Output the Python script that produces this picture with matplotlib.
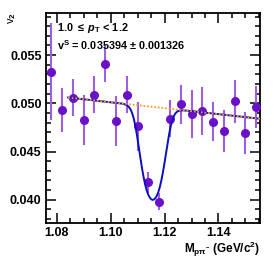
import matplotlib.pyplot as plt
from matplotlib.ticker import MultipleLocator
import numpy as np

plt.rcParams['font.family'] = ['Liberation Sans', 'DejaVu Sans']
plt.rcParams['mathtext.fontset'] = 'custom'
plt.rcParams['mathtext.rm'] = 'Liberation Sans:bold'
plt.rcParams['mathtext.it'] = 'Liberation Sans:bold:italic'
plt.rcParams['mathtext.bf'] = 'Liberation Sans:bold'

# datos
mass = [1.078, 1.082, 1.086, 1.090, 1.094, 1.098, 1.102, 1.106, 1.110, 1.114,
        1.118, 1.122, 1.126, 1.130, 1.134, 1.138, 1.142, 1.146, 1.150, 1.154]
v2 = [0.0533, 0.0493, 0.0506, 0.0483, 0.0509, 0.0541, 0.0482, 0.0509, 0.0476, 0.0418,
      0.0398, 0.0484, 0.0499, 0.0489, 0.0492, 0.0481, 0.0471, 0.0502, 0.0469, 0.0496]
v2_err = [0.0050, 0.0023, 0.0019, 0.0026, 0.0019, 0.0019, 0.0026, 0.0019, 0.0025, 0.0011,
          0.0009, 0.0019, 0.0020, 0.0025, 0.0025, 0.0020, 0.0022, 0.0022, 0.0022, 0.0022]

# parametros del ajuste
v2_sig = 0.035394
v2_sig_err = 0.001326
bg_a, bg_x0, bg_b = 0.0506, 1.0842, -0.0309
peak_mu, peak_sigma, peak_amp = 1.1156, 0.0029, 2.1
fit_lo, fit_hi = 1.0842, 1.1554

xf = np.linspace(fit_lo, fit_hi, 400)
bg = bg_a + bg_b * (xf - bg_x0)
sb = peak_amp * np.exp(-0.5 * ((xf - peak_mu) / peak_sigma) ** 2)
frac = sb / (1 + sb)
total = v2_sig * frac + bg * (1 - frac)

fig = plt.figure(figsize=(2.74, 2.63), dpi=100)
ax = fig.add_axes([0.1668, 0.152, 0.7821, 0.7997])

ax.errorbar(mass, v2, yerr=v2_err, fmt='none', ecolor='#9b5fe0', elinewidth=1.5, zorder=2)
ax.plot(mass, v2, 'o', color='#6a10c8', markersize=5.5, zorder=3)
ax.plot(xf, total, '-', color='#0a10c0', lw=1.4, zorder=4)
ax.plot(xf, bg, color='#ff9a2a', lw=1.3, ls=(0, (1, 1)), zorder=5)

ax.set_xlim(1.0759, 1.1554)
ax.set_ylim(0.03758, 0.0594)

ax.xaxis.set_major_locator(MultipleLocator(0.02))
ax.xaxis.set_minor_locator(MultipleLocator(0.005))
ax.yaxis.set_major_locator(MultipleLocator(0.005))
ax.yaxis.set_minor_locator(MultipleLocator(0.001))
ax.xaxis.set_major_formatter(plt.FuncFormatter(lambda v, p: f'{v:.2f}'))
ax.yaxis.set_major_formatter(plt.FuncFormatter(lambda v, p: f'{v:.3f}'))
ax.tick_params(which='both', direction='in', top=True, right=True, width=1.1)
ax.tick_params(which='major', length=7, labelsize=9, pad=3)
ax.tick_params(which='minor', length=3.5)
for lab in ax.get_xticklabels() + ax.get_yticklabels():
    lab.set_fontweight('bold')
for s in ax.spines.values():
    s.set_linewidth(1.3)

ax.text(0.053, 0.927, r'1.0 $\leq$ $p_{\mathrm{T}}$ < 1.2', transform=ax.transAxes,
        fontsize=7.8, fontweight='bold', va='center')
ax.text(0.053, 0.846, r'v$^{\mathrm{S}}$ = 0.035394 $\pm$ 0.001326', transform=ax.transAxes,
        fontsize=7.8, fontweight='bold', va='center')

fig.text(0.045, 0.955, r'v$_{2}$', rotation=90, fontsize=8, ha='center', va='top')
fig.text(0.949, 0.052, r'M$_{\mathrm{p\pi^{-}}}$ (GeV/c$^{2}$)', fontsize=8.5,
         fontweight='bold', ha='right', va='center')

fig.savefig('out.png', dpi=100)
